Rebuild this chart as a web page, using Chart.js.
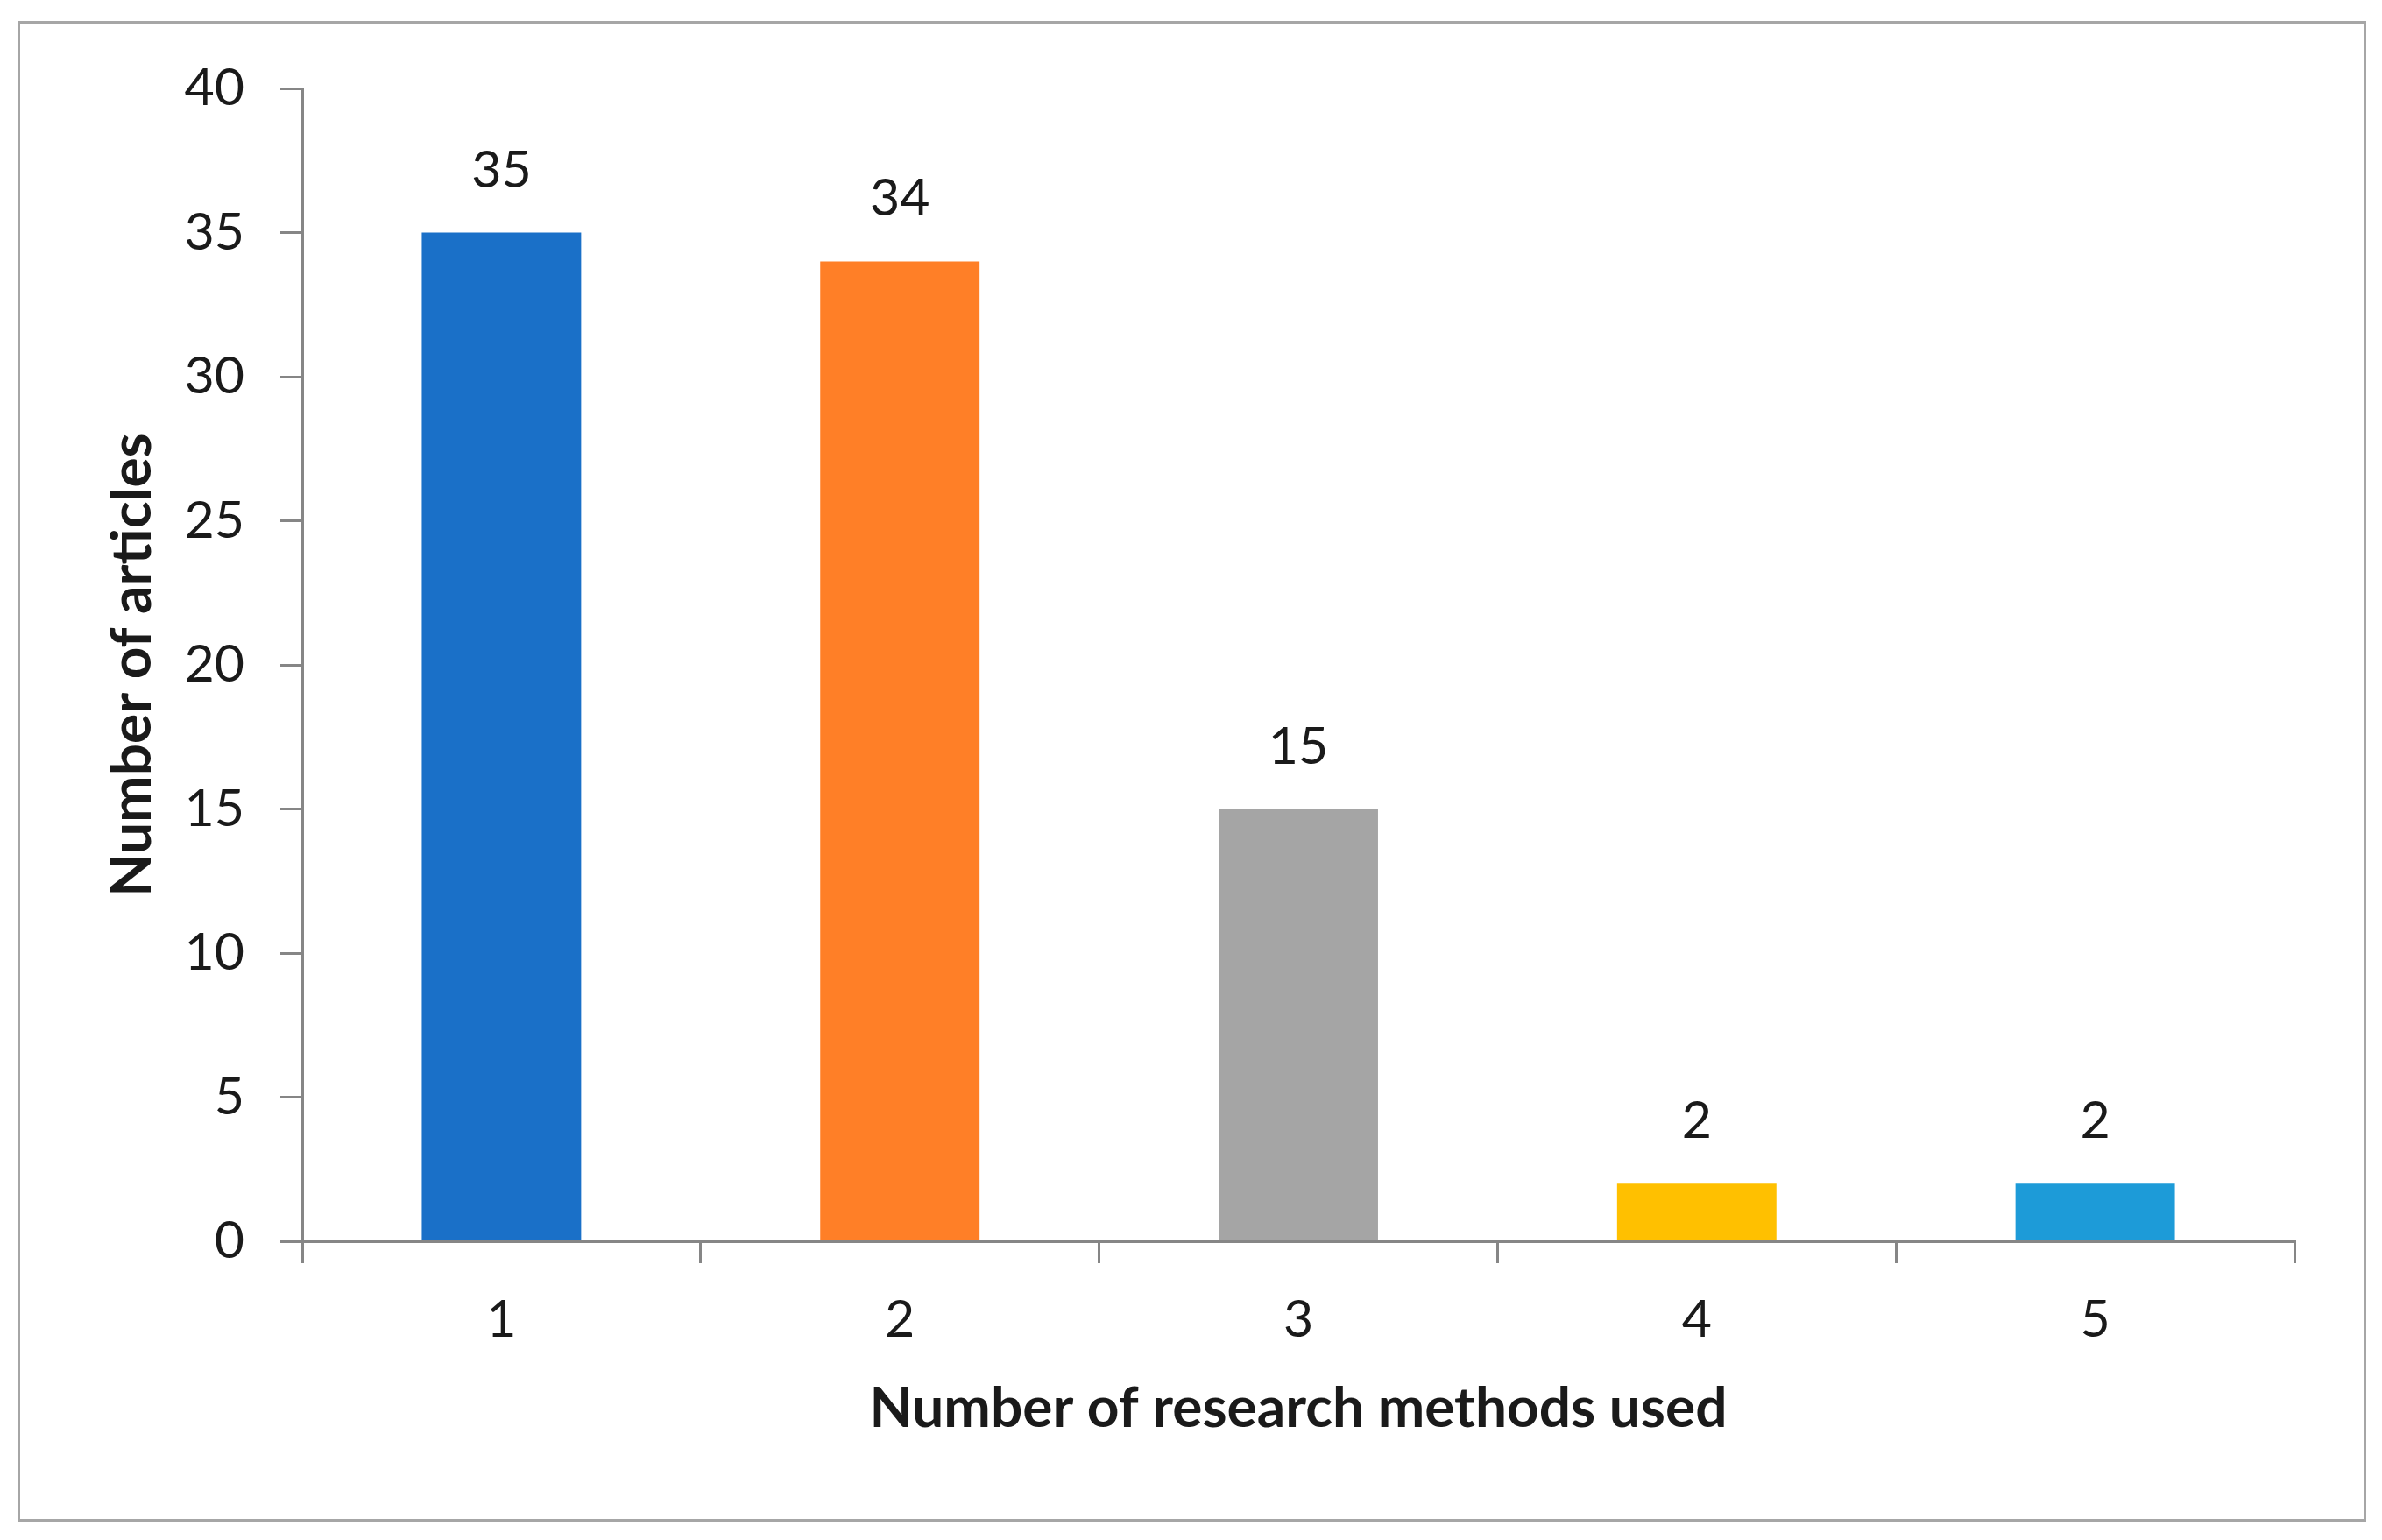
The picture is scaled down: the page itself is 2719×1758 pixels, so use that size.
<!DOCTYPE html>
<html>
<head>
<meta charset="utf-8">
<script src="https://cdn.jsdelivr.net/npm/chart.js@4"></script>
<style>
  html, body { margin: 0; padding: 0; background: #fff; }
  #wrap { position: relative; width: 2719px; height: 1758px; }
  #frame { position: absolute; left: 20px; top: 24px; width: 2675px; height: 1707px; border: 3px solid #a6a6a6; }
  #chart { position: absolute; left: 0; top: 0; }
</style>
</head>
<body>
<div id="wrap">
  <div id="frame"></div>
  <canvas id="chart" width="2719" height="1758"></canvas>
</div>
<script>
// datos del gráfico
const categories = ['1', '2', '3', '4', '5'];
const articles = [35, 34, 15, 2, 2];
const barColors = ['#1a70c8', '#ff7f27', '#a5a5a5', '#ffc000', '#1d9bd8'];
const yTicks = [0, 5, 10, 15, 20, 25, 30, 35, 40];

const axisColor = '#868686';
const textColor = '#1a1a1a';

// etiquetas encima de cada barra
const valueLabels = {
    id: 'valueLabels',
    afterDatasetsDraw(chart) {
        const ctx = chart.ctx;
        const meta = chart.getDatasetMeta(0);
        ctx.save();
        ctx.font = "59px 'Lato', sans-serif";
        ctx.fillStyle = textColor;
        ctx.textAlign = 'center';
        ctx.textBaseline = 'middle';
        meta.data.forEach(function(bar, i) {
            ctx.fillText(String(articles[i]), bar.x, bar.y - 71);
        });
        ctx.restore();
    }
};

new Chart(document.getElementById('chart'), {
    type: 'bar',
    data: {
        labels: categories,
        datasets: [{
            data: articles,
            backgroundColor: barColors,
            borderWidth: 0,
            barPercentage: 0.4,
            categoryPercentage: 1.0
        }]
    },
    options: {
        responsive: false,
        animation: false,
        layout: {
            padding: { left: 0, top: 101, right: 100, bottom: 41 }
        },
        plugins: {
            legend: { display: false },
            tooltip: { enabled: false }
        },
        scales: {
            x: {
                afterFit: function(scale) { scale.height = 300; },
                grid: {
                    drawOnChartArea: false,
                    drawTicks: true,
                    tickLength: 25,
                    color: axisColor,
                    lineWidth: 3
                },
                border: { display: true, color: axisColor, width: 3 },
                ticks: {
                    padding: 30,
                    color: textColor,
                    font: { family: "'Lato', sans-serif", size: 59 }
                },
                title: {
                    display: true,
                    text: 'Number of research methods used',
                    color: textColor,
                    font: { family: "'Lato', sans-serif", size: 64, weight: 'bold' },
                    padding: { top: 0, bottom: 70 }
                }
            },
            y: {
                min: 0,
                max: 40,
                afterFit: function(scale) { scale.width = 345; },
                afterBuildTicks: function(scale) {
                    scale.ticks = yTicks.map(function(v) { return { value: v }; });
                },
                grid: {
                    drawOnChartArea: false,
                    drawTicks: true,
                    tickLength: 25,
                    color: axisColor,
                    lineWidth: 3
                },
                border: { display: true, color: axisColor, width: 3 },
                ticks: {
                    padding: 41,
                    color: textColor,
                    font: { family: "'Lato', sans-serif", size: 59 }
                },
                title: {
                    display: true,
                    text: 'Number of articles',
                    color: textColor,
                    font: { family: "'Lato', sans-serif", size: 64, weight: 'bold' },
                    padding: { top: 113, bottom: 0 }
                }
            }
        }
    },
    plugins: [valueLabels]
});
</script>
</body>
</html>
